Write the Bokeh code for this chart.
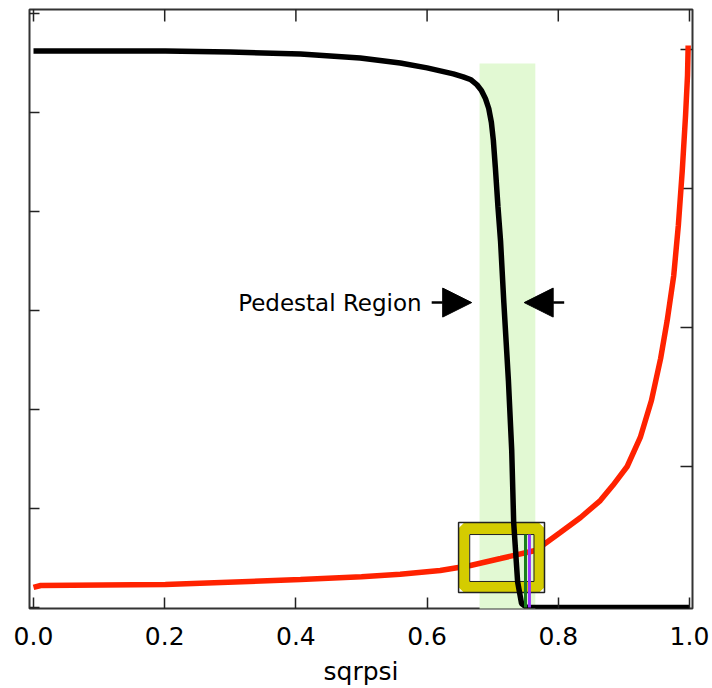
import math
from bokeh.plotting import figure
from bokeh.models import Range1d, FixedTicker, Arrow, NormalHead, Label
from bokeh.embed import file_html
from bokeh.resources import INLINE

# ---- data ----
black_x = [0.000, 0.201, 0.300, 0.407, 0.498, 0.559, 0.600, 0.620, 0.640, 0.655,
           0.667, 0.676, 0.683, 0.689, 0.694, 0.698, 0.701, 0.704, 0.708, 0.712,
           0.717, 0.724, 0.729, 0.732, 0.738, 0.744, 0.752, 1.000]
black_y = [5.62, 5.62, 5.61, 5.59, 5.55, 5.50, 5.45, 5.42, 5.39, 5.36,
           5.33, 5.28, 5.22, 5.14, 5.04, 4.90, 4.72, 4.45, 4.05, 3.70,
           3.08, 2.29, 1.59, 0.86, 0.26, 0.04, 0.00, 0.00]

red_x = [0.000, 0.011, 0.201, 0.407, 0.500, 0.559, 0.620, 0.666, 0.712, 0.765, 0.780,
         0.803, 0.834, 0.864, 0.883, 0.905, 0.925, 0.942, 0.956, 0.966, 0.976,
         0.983, 0.989, 0.994, 0.997, 0.998]
red_y = [0.130, 0.144, 0.151, 0.187, 0.207, 0.225, 0.252, 0.288, 0.338, 0.396, 0.446,
         0.525, 0.633, 0.755, 0.863, 1.000, 1.209, 1.475, 1.777, 2.050, 2.374,
         2.734, 3.129, 3.525, 3.813, 4.029]

pedestal_x = [0.680, 0.765]
pedestal_top = 5.495
box_x = [0.648, 0.779]
box_y = [0.152, 0.859]
box_inner_x = [0.665, 0.763]
box_inner_y = [0.263, 0.737]
mid_x = [0.656, 0.771]
mid_y = [0.207, 0.798]
green_line_x = 0.750
purple_line_x = 0.756
vline_top = 0.737

x_ticks = [0.0, 0.2, 0.4, 0.6, 0.8, 1.0]
left_ticks = [0, 1, 2, 3, 4, 5, 6]
right_ticks = [1, 2, 3, 4]

X_MIN, X_MAX = -0.0061, 1.0046
Y_MIN, Y_MAX = -0.01, 6.04
R_MIN, R_MAX = -0.0216, 4.288

FONT = "DejaVu Sans"
TICK = "#222222"

p = figure(width=712, height=688, output_backend="svg", toolbar_location=None,
           x_range=Range1d(X_MIN, X_MAX), y_range=Range1d(Y_MIN, Y_MAX),
           min_border_left=29, min_border_right=20, min_border_top=9,
           min_border_bottom=0)
p.extra_y_ranges = {"right": Range1d(R_MIN, R_MAX)}
p.grid.visible = False
p.yaxis.visible = False
p.outline_line_color = "#333333"
p.outline_line_width = 2
p.background_fill_color = "white"
p.border_fill_color = "white"

# bottom axis
xa = p.xaxis[0]
xa.ticker = FixedTicker(ticks=x_ticks)
xa.major_label_overrides = {0.0: "0.0", 1.0: "1.0"}
xa.major_tick_in = 11
xa.major_tick_out = 0
xa.minor_tick_in = 0
xa.minor_tick_out = 0
xa.axis_line_color = None
xa.major_tick_line_color = TICK
xa.major_tick_line_width = 1.5
xa.major_label_text_font = FONT
xa.major_label_text_font_size = "25px"
xa.major_label_text_color = "black"
xa.major_label_standoff = 18
xa.axis_label = "sqrpsi"
xa.axis_label_text_font = FONT
xa.axis_label_text_font_size = "25px"
xa.axis_label_text_font_style = "normal"
xa.axis_label_text_color = "black"
xa.axis_label_standoff = 9

# inner tick marks on left, top, right frame edges
p.scatter(x=[X_MIN] * len(left_ticks), y=left_ticks, marker="dash", size=20,
          line_color=TICK, line_width=1.5)
p.scatter(x=[X_MAX] * len(right_ticks), y=right_ticks, y_range_name="right",
          marker="dash", size=24, line_color=TICK, line_width=1.5)
p.scatter(x=x_ticks, y=[Y_MAX] * len(x_ticks), marker="dash", angle=math.pi / 2,
          size=24, line_color=TICK, line_width=1.5)

# pedestal band
p.quad(left=[pedestal_x[0]], right=[pedestal_x[1]], bottom=[-0.05], top=[pedestal_top],
       fill_color="#e2f9d3", line_color=None)

# red curve
p.line(red_x, red_y, y_range_name="right", line_color="#ff2200", line_width=5.5)

# yellow box
p.quad(left=[mid_x[0]], right=[mid_x[1]], bottom=[mid_y[0]], top=[mid_y[1]],
       fill_color=None, line_color="#d4cc00", line_width=11)
p.quad(left=[box_x[0]], right=[box_x[1]], bottom=[box_y[0]], top=[box_y[1]],
       fill_color=None, line_color="#222222", line_width=1.5)
p.quad(left=[box_inner_x[0]], right=[box_inner_x[1]], bottom=[box_inner_y[0]],
       top=[box_inner_y[1]], fill_color=None, line_color="#222222", line_width=1)

# black curve
p.line(black_x, black_y, line_color="black", line_width=5.5)

# green and purple lines
p.segment(x0=[green_line_x], y0=[0], x1=[green_line_x], y1=[vline_top],
          line_color="#1a7f1a", line_width=3)
p.segment(x0=[purple_line_x], y0=[0], x1=[purple_line_x], y1=[vline_top],
          line_color="#9933ff", line_width=3)

# annotation
arrow_y = 3.08
p.add_layout(Arrow(end=NormalHead(size=29, fill_color="black", line_color="black"),
                   x_start=0.607, y_start=arrow_y, x_end=0.668, y_end=arrow_y,
                   line_color="black", line_width=2.5))
p.add_layout(Arrow(end=NormalHead(size=29, fill_color="black", line_color="black"),
                   x_start=0.809, y_start=arrow_y, x_end=0.748, y_end=arrow_y,
                   line_color="black", line_width=2.5))
p.add_layout(Label(x=0.312, y=arrow_y, text="Pedestal Region", text_font=FONT,
                   text_font_size="23px", text_baseline="middle", text_color="black"))

open("out.html", "w").write(file_html(p, INLINE))
